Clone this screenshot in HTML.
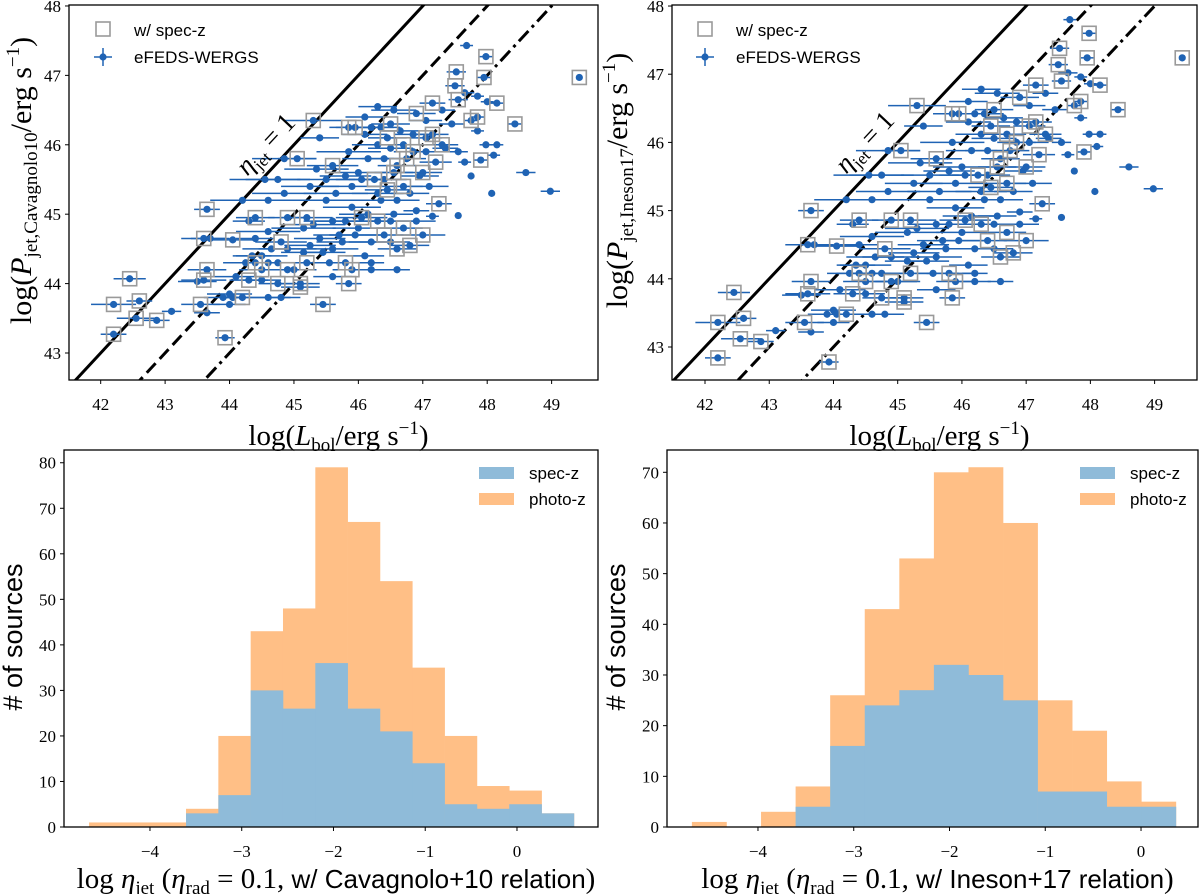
<!DOCTYPE html>
<html><head><meta charset="utf-8"><style>
html,body{margin:0;padding:0;background:#fff;}
svg{display:block;}
.serif{font-family:"Liberation Serif","DejaVu Serif",serif;}
.sans{font-family:"Liberation Sans","DejaVu Sans",sans-serif;}
</style></head><body>
<svg id="fig" width="1200" height="894" viewBox="0 0 1200 894" xmlns="http://www.w3.org/2000/svg">
<defs>
<clipPath id="clipTL"><rect x="69" y="5" width="529" height="375"/></clipPath>
<clipPath id="clipTR"><rect x="672" y="5" width="525" height="375"/></clipPath>
</defs>
</svg>
<script>
// ---------- data ----------
const lbol=[42.2,42.2,42.45,42.6,42.55,42.87,43.1,43.55,43.65,43.5,43.6,43.65,43.6,43.7,44.05,43.65,43.93,44.0,44.0,44.05,44.2,44.1,44.25,44.3,44.4,44.5,44.6,44.65,44.4,44.3,44.6,44.8,44.75,44.8,44.6,44.75,44.9,45.1,45.0,45.15,45.2,44.85,44.6,44.55,44.75,44.2,44.85,45.05,45.3,45.4,45.85,45.35,45.5,45.6,45.5,45.3,45.4,45.6,45.45,45.55,45.45,45.6,45.8,45.85,45.9,45.75,45.8,45.9,45.65,45.9,46.0,45.85,46.05,46.15,46.1,46.1,46.3,46.55,46.5,46.3,46.4,46.5,46.25,46.35,46.15,46.0,46.2,46.1,46.2,46.4,46.5,46.6,46.5,46.6,46.7,46.55,46.75,46.7,46.85,46.9,47.05,47.15,47.15,47.05,47.0,47.2,47.1,47.25,47.0,46.8,46.9,47.3,47.3,47.45,47.55,47.5,47.65,47.52,47.68,47.98,47.95,47.85,48.0,48.15,47.85,47.75,47.85,47.98,48.15,48.1,47.65,47.9,47.55,48.43,48.6,48.07,48.98,49.43,47.75,47.55,47.15,47.35,46.9,46.3,46.6,46.2,45.7,45.25,45.15,45.1,44.5,43.9,44.4,44.9,45.25,45.8,46.35,45.95,46.4,46.6,46.45,46.8,46.95,46.3,46.05,45.95,46.7,46.45,46.65,46.2,45.6,45.2,44.9,44.5,44.35,46.85,47.05,46.55];
const pjetCav=[43.27,43.7,44.07,43.75,43.5,43.47,43.6,43.7,43.58,44.03,44.05,44.2,44.65,44.65,44.63,45.07,43.22,43.7,43.85,43.8,43.8,44.1,44.3,44.05,44.3,44.4,44.3,44.5,44.95,44.9,44.75,44.6,44.0,43.8,43.8,44.3,44.5,44.0,44.2,44.8,44.95,45.3,45.2,45.5,45.5,45.2,45.8,45.8,46.35,46.1,46.25,45.65,45.5,45.7,45.2,44.85,44.65,44.9,44.45,44.3,43.7,44.1,44.3,44.0,44.2,44.6,44.9,45.1,45.3,45.4,45.6,45.9,45.5,45.8,46.15,46.4,46.55,46.5,46.3,46.0,45.8,45.95,45.5,45.2,45.0,44.8,44.6,44.4,44.2,44.7,44.6,44.5,44.9,45.2,45.4,45.6,45.8,46.0,46.15,46.45,46.35,46.6,46.15,45.9,45.6,45.75,45.4,45.15,44.7,44.55,44.9,46.0,46.5,46.3,46.65,46.85,46.75,47.05,47.43,47.27,46.97,46.7,46.62,46.6,46.4,46.35,46.2,46.0,46.0,45.85,45.75,45.78,45.9,46.3,45.6,45.3,45.33,46.97,45.55,44.98,44.97,45.95,45.05,45.3,44.2,44.3,44.7,44.55,44.45,43.95,44.05,43.8,44.65,44.95,45.4,45.55,46.25,46.25,45.5,45.7,46.1,45.3,45.55,44.9,44.95,44.7,44.8,45.35,46.2,46.25,44.5,44.3,44.2,44.2,44.4,45.9,46.1,45.0];
const pjetIne=[42.84,43.36,43.80,43.42,43.12,43.08,43.24,43.36,43.22,43.76,43.78,43.96,44.50,44.50,44.48,45.00,42.78,43.36,43.54,43.48,43.48,43.84,44.08,43.78,44.08,44.20,44.08,44.32,44.86,44.80,44.62,44.44,43.72,43.48,43.48,44.08,44.32,43.72,43.96,44.68,44.86,45.28,45.16,45.52,45.52,45.16,45.88,45.88,46.54,46.24,46.42,45.70,45.52,45.76,45.16,44.74,44.50,44.80,44.26,44.08,43.36,43.84,44.08,43.72,43.96,44.44,44.80,45.04,45.28,45.40,45.64,46.00,45.52,45.88,46.30,46.60,46.78,46.72,46.48,46.12,45.88,46.06,45.52,45.16,44.92,44.68,44.44,44.20,43.96,44.56,44.44,44.32,44.80,45.16,45.40,45.64,45.88,46.12,46.30,46.66,46.54,46.84,46.30,46.00,45.64,45.82,45.40,45.10,44.56,44.38,44.80,46.12,46.72,46.48,46.90,47.14,47.02,47.38,47.80,47.60,47.24,46.96,46.86,46.84,46.60,46.54,46.36,46.12,46.12,45.94,45.82,45.86,46.00,46.48,45.64,45.28,45.32,47.24,45.58,44.90,44.88,46.06,44.98,45.28,43.96,44.08,44.56,44.38,44.26,43.66,43.78,43.48,44.50,44.86,45.40,45.58,46.42,46.42,45.52,45.76,46.24,45.28,45.58,44.80,44.86,44.56,44.68,45.34,46.36,46.42,44.32,44.08,43.96,43.96,44.20,46.00,46.24,44.92];
const xerr=[.2,.35,.25,.2,.3,.2,.15,.3,.2,.3,.35,.3,.35,.3,.4,.2,.15,.25,.35,.2,.3,.4,.35,.3,.35,.4,.3,.45,.3,.25,.5,.4,.3,.3,.35,.4,.45,.3,.35,.5,.4,.5,.6,.55,.5,.5,.5,.3,.45,.3,.3,.5,.45,.4,.5,.5,.4,.45,.35,.4,.2,.3,.35,.2,.3,.4,.5,.45,.5,.5,.45,.5,.4,.4,.35,.3,.3,.35,.3,.4,.35,.35,.4,.4,.45,.4,.35,.3,.25,.3,.3,.3,.35,.35,.3,.3,.3,.3,.3,.3,.25,.2,.25,.3,.3,.25,.3,.2,.35,.3,.3,.25,.2,.2,.15,.15,.15,.15,.1,.1,.1,.1,.1,.1,.1,.1,.1,.1,.1,.1,.1,.1,.15,.1,.15,.05,.15,.05,.05,.05,.1,.2,.2,.4,.2,.2,.4,.4,.35,.3,.3,.3,.3,.3,.45,.4,.3,.3,.35,.3,.3,.3,.3,.35,.4,.4,.3,.35,.3,.35,.4,.4,.4,.35,.3,.3,.25,.3];
const specz=[1,1,1,1,1,1,0,1,0,0,1,1,1,0,1,1,1,0,0,0,1,0,0,1,1,0,0,0,1,0,0,1,1,0,0,0,0,1,0,0,1,0,0,0,0,0,0,1,1,0,1,0,0,1,0,0,0,0,0,0,1,0,1,1,1,0,0,0,0,0,0,0,0,0,0,0,0,0,1,0,0,0,1,0,0,0,0,0,0,1,0,1,0,0,1,1,1,1,0,1,0,1,1,0,1,1,0,1,1,1,0,1,0,0,1,1,0,1,0,1,1,0,0,1,1,1,0,0,0,0,0,1,0,1,0,0,0,1,0,0,0,0,0,0,0,0,0,0,0,1,0,0,0,1,0,0,0,1,0,1,1,0,0,1,1,0,1,1,0,0,0,1,1,1,0,1,1,0];
const relOffsets=[1,0,-1];

const histStartL=-4.664, histBinL=0.3523;
const totalCountsL=[1,1,1,4,20,43,48,79,67,54,35,20,9,8,3];
const specCountsL=[0,0,0,3,7,30,26,36,26,21,14,5,4,5,3];
const histStartR=-4.69, histBinR=0.361;
const totalCountsR=[1,0,3,8,26,43,53,70,71,60,25,19,9,5];
const specCountsR=[0,0,0,4,16,24,27,32,30,25,7,7,4,4];

const topXTicks=[42,43,44,45,46,47,48,49];
const topYTicks=[43,44,45,46,47,48];
const histXTicks=[-4,-3,-2,-1,0];
const histYTicksL=[0,10,20,30,40,50,60,70,80];
const histYTicksR=[0,10,20,30,40,50,60,70];

// ---------- helpers ----------
const NS="http://www.w3.org/2000/svg";
const svg=document.getElementById('fig');
function mk(tag,attrs,parent){const e=document.createElementNS(NS,tag);for(const k in attrs)e.setAttribute(k,attrs[k]);(parent||svg).appendChild(e);return e;}
function lin(d0,d1,r0,r1){return v=>r0+(v-d0)*(r1-r0)/(d1-d0);}
const BLUE="#1f63b4", GREY="#9a9a9a";

function frameAndTicks(g,f,xs,ys,xt,yt,fmt){
  const fr=mk('rect',{x:f.l,y:f.t,width:f.r-f.l,height:f.b-f.t,fill:'none',stroke:'#000','stroke-width':1.3},g);
  
  
  xt.forEach(v=>{
    const x=xs(v);
    const t=mk('line',{x1:x,x2:x,y1:f.b,y2:f.b+4,stroke:'#000','stroke-width':1},g);
    
    
    const tx=mk('text',{x:x,y:f.b+30,'text-anchor':'middle','font-size':17,class:'serif'},g);
    
    
    tx.textContent=fmt(v);
  });
  yt.forEach(v=>{
    const y=ys(v);
    const t=mk('line',{x1:f.l-4,x2:f.l,y1:y,y2:y,stroke:'#000','stroke-width':1},g);
    
    
    const tx=mk('text',{x:f.l-8,y:y+6,'text-anchor':'end','font-size':17,class:'serif'},g);
    
    
    tx.textContent=String(v);
  });
}

function scatterPanel(f,xd,yd,yvals,clip,yname,ylx,lgx,annC){
  const g=mk('g',{});
  
  
  const xs=lin(xd[0],xd[1],f.l,f.r), ys=lin(yd[0],yd[1],f.b,f.t);
  const lg=mk('g',{'clip-path':'url(#'+clip+')'},g);
  const dashes=['none','13,6','14,5,3,5'];
  const lnames=['eta-jet-1-line','eta-jet-0p1-line','eta-jet-0p01-line'];
  relOffsets.forEach((o,i)=>{
    const x0=xd[0]-1, x1=xd[1]+1;
    const l=mk('line',{x1:xs(x0),y1:ys(x0+o),x2:xs(x1),y2:ys(x1+o),stroke:'#000','stroke-width':3,'stroke-dasharray':dashes[i]},lg);
    
    
  });
  const pg=mk('g',{'clip-path':'url(#'+clip+')'},g);
  lbol.forEach((x,i)=>{
    const y=yvals[i];
    const eb=mk('line',{x1:xs(x-xerr[i]),x2:xs(x+xerr[i]),y1:ys(y),y2:ys(y),stroke:BLUE,'stroke-width':1.5},pg);
    
    
    const ebv=mk('line',{x1:xs(x),x2:xs(x),y1:ys(y)-2.5,y2:ys(y)+2.5,stroke:BLUE,'stroke-width':1.2},pg);
    
    
    const d=mk('circle',{cx:xs(x),cy:ys(y),r:3.6,fill:BLUE},pg);
    
    
  });
  lbol.forEach((x,i)=>{
    if(!specz[i])return;
    const y=yvals[i];
    const s=mk('rect',{x:xs(x)-7,y:ys(y)-7,width:14,height:14,fill:'none',stroke:GREY,'stroke-width':1.6},pg);
    
    
  });
  frameAndTicks(g,f,xs,ys,topXTicks,topYTicks,v=>String(v));
  const an=mk('text',{x:annC[0],y:annC[1],'text-anchor':'middle','font-size':27,class:'serif',transform:'rotate(-47 '+annC[0]+' '+annC[1]+')'},g);
  
  
  an.innerHTML='<tspan font-style="italic">η</tspan><tspan font-size="17" dy="6">jet</tspan><tspan dy="-6"> = 1</tspan>';
  const leg=mk('g',{},g);
  
  
  const ls=mk('rect',{x:lgx-7,y:22,width:14,height:14,fill:'none',stroke:GREY,'stroke-width':1.6},leg);
  
  
  const lt1=mk('text',{x:lgx+31,y:36,'font-size':17,class:'sans'},leg);
  
  
  lt1.textContent='w/ spec-z';
  const le1=mk('line',{x1:lgx-9,x2:lgx+9,y1:57,y2:57,stroke:BLUE,'stroke-width':1.5},leg);
  
  
  const le2=mk('line',{x1:lgx,x2:lgx,y1:48,y2:66,stroke:BLUE,'stroke-width':1.5},leg);
  
  
  const ld=mk('circle',{cx:lgx,cy:57,r:3.6,fill:BLUE},leg);
  
  
  const lt2=mk('text',{x:lgx+31,y:63,'font-size':17,class:'sans'},leg);
  
  
  lt2.textContent='eFEDS-WERGS';
  const xl=mk('text',{x:(f.l+f.r)/2+5,y:445,'text-anchor':'middle','font-size':29,class:'serif'},g);
  
  
  xl.innerHTML='log(<tspan font-style="italic">L</tspan><tspan font-size="19" dy="6">bol</tspan><tspan dy="-6">/erg s</tspan><tspan font-size="19" dy="-11">−1</tspan><tspan dy="11">)</tspan>';
  const cy=(f.t+f.b)/2-12;
  const yl=mk('text',{x:ylx,y:cy,'text-anchor':'middle','font-size':30,class:'serif',transform:'rotate(-90 '+ylx+' '+cy+')'},g);
  
  
  yl.innerHTML='log(<tspan font-style="italic">P</tspan><tspan font-size="19" dy="6">jet,'+yname+'</tspan><tspan dy="-6">/erg s</tspan><tspan font-size="19" dy="-12">−1</tspan><tspan dy="12">)</tspan>';
}

function histPanel(f,xd,yd,start,bw,tot,spec,yt,relname,lgx){
  const g=mk('g',{});
  
  
  const xs=lin(xd[0],xd[1],f.l,f.r), ys=lin(yd[0],yd[1],f.b,f.t);
  tot.forEach((c,i)=>{
    if(c<=0)return;
    const x0=xs(start+i*bw), x1=xs(start+(i+1)*bw);
    const r=mk('rect',{x:x0,y:ys(c),width:x1-x0+0.3,height:ys(0)-ys(c),fill:'#ffbf86'},g);
    
    
  });
  spec.forEach((c,i)=>{
    if(c<=0)return;
    const x0=xs(start+i*bw), x1=xs(start+(i+1)*bw);
    const r=mk('rect',{x:x0,y:ys(c),width:x1-x0+0.3,height:ys(0)-ys(c),fill:'#8fbbd9'},g);
    
    
  });
  frameAndTicks(g,f,xs,ys,histXTicks,yt,v=>v<0?'−'+(-v):String(v));
  const leg=mk('g',{},g);
  
  
  const p1=mk('rect',{x:lgx,y:467,width:35,height:12,fill:'#8fbbd9'},leg);
  
  
  const t1=mk('text',{x:lgx+50,y:479,'font-size':17,class:'sans'},leg);
  
  
  t1.textContent='spec-z';
  const p2=mk('rect',{x:lgx,y:493,width:35,height:12,fill:'#ffbf86'},leg);
  
  
  const t2=mk('text',{x:lgx+50,y:505,'font-size':17,class:'sans'},leg);
  
  
  t2.textContent='photo-z';
  const xl=mk('text',{x:(f.l+f.r)/2+5,y:888,'text-anchor':'middle','font-size':29,class:'serif'},g);
  
  
  xl.innerHTML='log  <tspan font-style="italic">η</tspan><tspan font-size="19" dy="6">jet</tspan><tspan dy="-6"> (</tspan><tspan font-style="italic">η</tspan><tspan font-size="19" dy="6">rad</tspan><tspan dy="-6"> = 0.1, </tspan><tspan class="sans" font-size="26">w/ '+relname+' relation</tspan>)';
  const ylx=f.l-42, cy=637;
  const yl=mk('text',{x:ylx,y:cy,'text-anchor':'middle','font-size':27,class:'sans',transform:'rotate(-90 '+ylx+' '+cy+')'},g);
  
  
  yl.textContent='# of sources';
}

scatterPanel({l:69,r:598,t:5,b:380},[41.508,49.72],[42.611,48.014],pjetCav,'clipTL','Cavagnolo10',31,103,[272,150]);
scatterPanel({l:672,r:1197,t:5,b:380},[41.486,49.66],[42.516,48.015],pjetIne,'clipTR','Ineson17',627,705,[871,148]);
histPanel({l:64,r:598,t:450,b:827},[-4.937,0.883],[0,82.8],histStartL,histBinL,totalCountsL,specCountsL,histYTicksL,'Cavagnolo+10',479);
histPanel({l:667,r:1198,t:450,b:827},[-4.950,0.595],[0,74.4],histStartR,histBinR,totalCountsR,specCountsR,histYTicksR,'Ineson+17',1080);
</script>
</body></html>
